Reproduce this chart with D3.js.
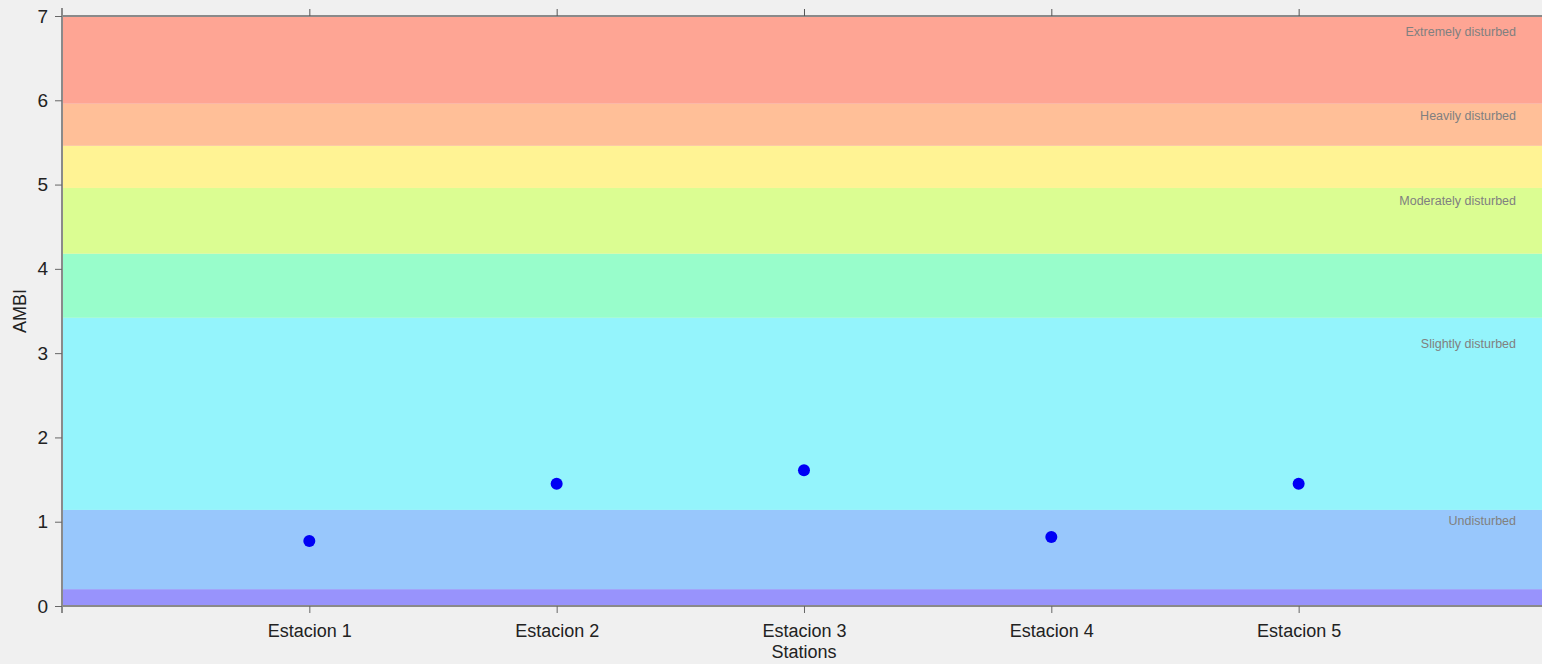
<!DOCTYPE html>
<html>
<head>
<meta charset="utf-8">
<script src="https://cdn.jsdelivr.net/npm/d3@7"></script>
<style>
html,body{margin:0;padding:0;background:#f0f0f0;}
svg{display:block;font-family:"Liberation Sans",Arial,sans-serif;}
</style>
</head>
<body>
<svg id="chart" width="1542" height="664"></svg>
<script>
const stations = ["Estacion 1","Estacion 2","Estacion 3","Estacion 4","Estacion 5"];
const ambiValues = [0.77, 1.45, 1.61, 0.82, 1.45];
const yTicks = [0,1,2,3,4,5,6,7];
const bandStops = [0, 0.2, 1.14, 3.42, 4.18, 4.96, 5.46, 5.96, 7];
const bandColors = ["#9893fc","#98c7fc","#94f4fc","#98fdcb","#dbfd92","#fff394","#ffbf98","#fea594"];
const classNames = ["Undisturbed","Slightly disturbed","Moderately disturbed","Heavily disturbed","Extremely disturbed"];
const classLabelY = [1.0, 3.1, 4.8, 5.8, 6.8];

(function(){
const svg = d3.select("#chart");
const W = 1542;
const mLeft = 62, mTop = 16, mBottom = 606;
const x = d3.scaleLinear().domain([0, 6]).range([mLeft, mLeft + 247.33*6]);
const y = d3.scaleLinear().domain([0, 7]).range([mBottom, mTop]);

// bands
const bands = bandColors.map((c,i)=>({y0:bandStops[i], y1:bandStops[i+1], c}));
svg.append("g").selectAll("rect").data(bands).join("rect")
  .attr("x", mLeft).attr("width", W - mLeft)
  .attr("y", d=>y(d.y1)).attr("height", d=>y(d.y0)-y(d.y1))
  .attr("fill", d=>d.c);

// class labels
svg.append("g").selectAll("text").data(classNames).join("text")
  .attr("x", 1516).attr("y", (d,i)=>y(classLabelY[i]))
  .attr("text-anchor","end").attr("dominant-baseline","middle")
  .attr("font-size", 12.5).attr("fill","#808080")
  .text(d=>d);

const axisColor = "#8a8a8a";
// top axis (ticks, no labels)
const topAxis = svg.append("g").attr("transform",`translate(0,${mTop})`)
  .call(d3.axisTop(x).tickValues([1,2,3,4,5]).tickFormat("").tickSize(7).tickSizeOuter(0));
topAxis.select(".domain").attr("stroke", axisColor).attr("stroke-width",2).attr("d",`M${mLeft},0H${W}`);
topAxis.selectAll(".tick line").attr("stroke","#555");

// bottom axis
const bottomAxis = svg.append("g").attr("transform",`translate(0,${mBottom})`)
  .call(d3.axisBottom(x).tickValues([1,2,3,4,5]).tickFormat(d=>stations[d-1]).tickSize(7).tickSizeOuter(0).tickPadding(11));
bottomAxis.select(".domain").attr("stroke", axisColor).attr("stroke-width",2).attr("d",`M${mLeft},0H${W}`);
bottomAxis.selectAll(".tick line").attr("stroke","#666");
bottomAxis.selectAll("text").attr("font-size",18).attr("fill","#222")
  .attr("font-family","'Liberation Sans',Arial,sans-serif");

// left axis
const leftAxis = svg.append("g").attr("transform",`translate(${mLeft},0)`)
  .call(d3.axisLeft(y).tickValues(yTicks).tickFormat(d3.format("d")).tickSize(7).tickSizeOuter(0).tickPadding(7));
leftAxis.select(".domain").attr("stroke", axisColor).attr("stroke-width",2).attr("d",`M0,${mTop-8}V${mBottom+7}`);
leftAxis.selectAll(".tick line").attr("stroke","#666");
leftAxis.selectAll("text").attr("font-size",19).attr("fill","#222")
  .attr("font-family","'Liberation Sans',Arial,sans-serif");

// axis titles
svg.append("text").attr("transform",`translate(26,${(mTop+mBottom)/2}) rotate(-90)`)
  .attr("text-anchor","middle").attr("font-size",18).attr("fill","#222").text("AMBI");
svg.append("text").attr("x", x(3)).attr("y", 658)
  .attr("text-anchor","middle").attr("font-size",18).attr("fill","#222").text("Stations");

// points
svg.append("g").selectAll("circle").data(ambiValues).join("circle")
  .attr("cx",(d,i)=>x(i+1)).attr("cy",d=>y(d)).attr("r",6).attr("fill","#0000f5");
})();
</script>
</body>
</html>
